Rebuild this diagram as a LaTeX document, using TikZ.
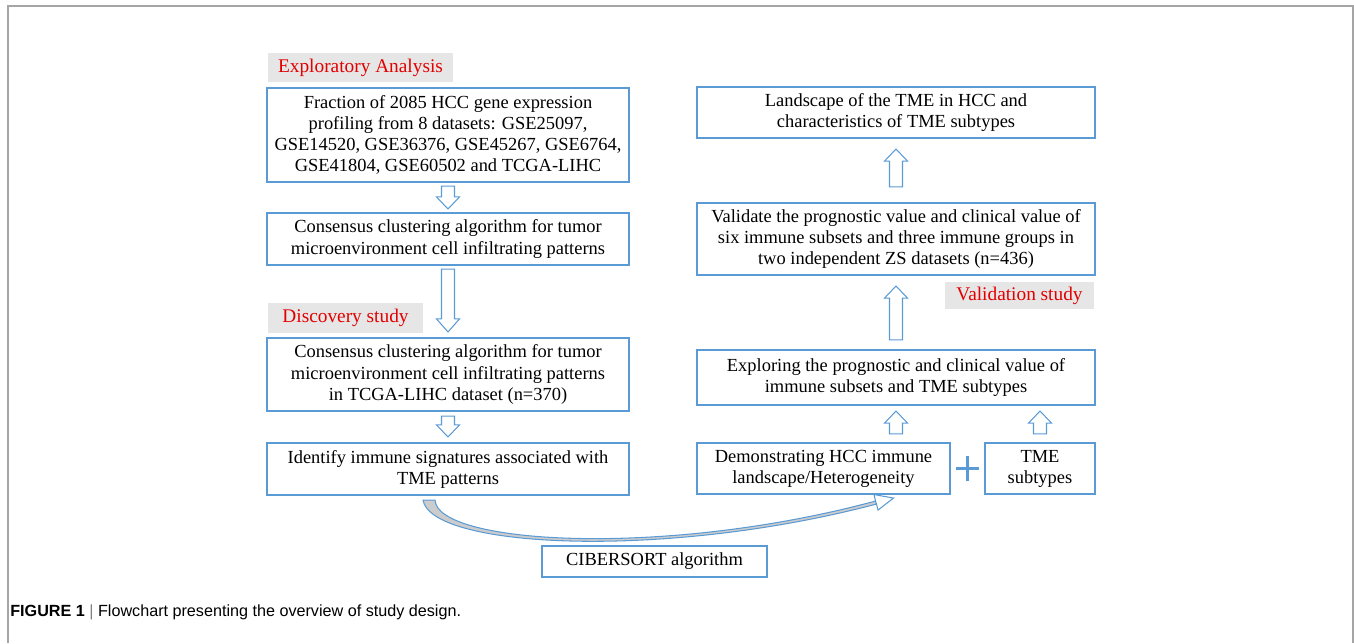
\documentclass[tikz,border=0pt]{standalone}
\usepackage{fontspec}
\setmainfont{Liberation Serif}
\newfontfamily\capfont{Liberation Sans}
\usetikzlibrary{calc}

\definecolor{boxblue}{RGB}{91,155,213}
\definecolor{labelgray}{RGB}{231,230,230}
\definecolor{labelred}{RGB}{226,0,0}
\definecolor{framegray}{RGB}{165,165,165}

\tikzset{
  stepbox/.style={draw=boxblue, line width=1.2pt, fill=white, align=center,
    inner sep=0pt, font=\fontsize{10.5}{12}\selectfont},
  phase/.style={fill=labelgray, text=labelred, inner sep=0pt,
    font=\fontsize{11}{13}\selectfont},
  hollow/.style={draw=boxblue, line width=0.6pt, fill=white, line join=miter},
}

% tail anchor, tail shift, tip anchor, tip shift, head length (signed)
\newcommand{\blockarrow}[5]{%
  \draw[hollow] ($(#1)+(-6.5,#2)$) -- ($(#3)+(-6.5,{#4+(#5)})$)
    -- ($(#3)+(-11.5,{#4+(#5)})$) -- ($(#3)+(0,#4)$)
    -- ($(#3)+(11.5,{#4+(#5)})$) -- ($(#3)+(6.5,{#4+(#5)})$)
    -- ($(#1)+(6.5,#2)$) -- cycle;}

\begin{document}
\begin{tikzpicture}[x=0.02cm, y=-0.02cm]

\useasboundingbox (0,0) rectangle (1354,643);

% frame
\draw[framegray, line width=0.9pt] (8,643) -- (8,6) -- (1353,6) -- (1353,643);

% left column
\def\xl{448}
\node[phase, minimum width=3.7cm, minimum height=0.58cm] (expl) at (360.5,67.5) {Exploratory Analysis};
\node[stepbox, minimum width=7.24cm, minimum height=1.88cm] (A) at (\xl,135)
  {Fraction of 2085 HCC gene expression\\profiling from 8 datasets: GSE25097,\\GSE14520, GSE36376, GSE45267, GSE6764,\\GSE41804, GSE60502 and TCGA-LIHC};
\node[stepbox, minimum width=7.24cm, minimum height=1.04cm] (B) at (\xl,239)
  {Consensus clustering algorithm for tumor\\microenvironment cell infiltrating patterns};
\node[phase, minimum width=3.1cm, minimum height=0.6cm] (disc) at (345.5,318) {Discovery study};
\node[stepbox, minimum width=7.24cm, minimum height=1.46cm] (C) at (\xl,374.5)
  {Consensus clustering algorithm for tumor\\microenvironment cell infiltrating patterns\\in TCGA-LIHC dataset (n=370)};
\node[stepbox, minimum width=7.24cm, minimum height=1.04cm] (D) at (\xl,469)
  {Identify immune signatures associated with\\TME patterns};

% right column
\def\xr{896}
\node[stepbox, minimum width=7.96cm, minimum height=1.02cm] (E) at (\xr,112.5)
  {Landscape of the TME in HCC and\\characteristics of TME subtypes};
\node[stepbox, minimum width=7.96cm, minimum height=1.44cm] (F) at (\xr,239)
  {Validate the prognostic value and clinical value of\\six immune subsets and three immune groups in\\two independent ZS datasets (n=436)};
\node[phase, minimum width=2.98cm, minimum height=0.54cm] (vali) at (1019.5,295.5) {Validation study};
\node[stepbox, minimum width=7.96cm, minimum height=1.1cm] (G) at (\xr,377.5)
  {Exploring the prognostic and clinical value of\\immune subsets and TME subtypes};
\node[stepbox, minimum width=5.06cm, minimum height=1.02cm] (H) at (823.5,468.5)
  {Demonstrating HCC immune\\landscape/Heterogeneity};
\node[stepbox, minimum width=2.2cm, minimum height=1.02cm] (I) at (1040,468.5)
  {TME\\subtypes};
\node[stepbox, minimum width=4.5cm, minimum height=0.62cm] (cib) at (654.5,561.5)
  {CIBERSORT algorithm};

% plus sign
\coordinate (pl) at ($(H.east)!0.5!(I.west)$);
\draw[boxblue, line width=1.6pt] ($(pl)+(-11.5,0)$) -- ($(pl)+(11.5,0)$)
  ($(pl)+(0,-12.5)$) -- ($(pl)+(0,12.5)$);

% hollow arrows
\blockarrow{A.south}{3}{B.north}{-3}{-12}
\blockarrow{B.south}{3}{C.north}{-5}{-13}
\blockarrow{C.south}{4}{D.north}{-5}{-12}
\blockarrow{F.north}{-15}{E.south}{10}{12}
\blockarrow{G.north}{-9}{F.south}{10}{12}
\coordinate (Hg) at (H.north -| G.south);
\coordinate (Gi) at (G.south -| I.north);
\blockarrow{Hg}{-8}{G.south}{5}{12}
\blockarrow{I.north}{-8}{Gi}{5}{12}

% curved arrow D -> H
\coordinate (cs) at ($(D.south)+(-25,4)$);
\coordinate (ce) at ($(H.south)+(70,3)$);
\draw[draw=boxblue, line width=0.6pt, fill=gray!40]
  (cs) .. controls ($(cs)+(8,48)$) and ($(ce)+(-230,62)$) .. ($(ce)+(-17,6)$)
  -- ($(ce)+(-18,3)$) .. controls ($(ce)+(-230,60)$) and ($(cs)+(14,44)$) .. ($(cs)+(12,0)$)
  -- cycle;
\draw[hollow] (ce) -- ($(ce)+(-19.5,-3.5)$) -- ($(ce)+(-18,3)$) -- ($(ce)+(-17,6)$)
  -- ($(ce)+(-15.5,12)$) -- cycle;

% caption
\node[anchor=west, inner sep=0pt, font=\capfont\fontsize{9.2}{11}\selectfont] (caption) at (10,612)
  {\textbf{FIGURE 1} \textcolor{gray}{|} Flowchart presenting the overview of study design.};

\end{tikzpicture}
\end{document}
